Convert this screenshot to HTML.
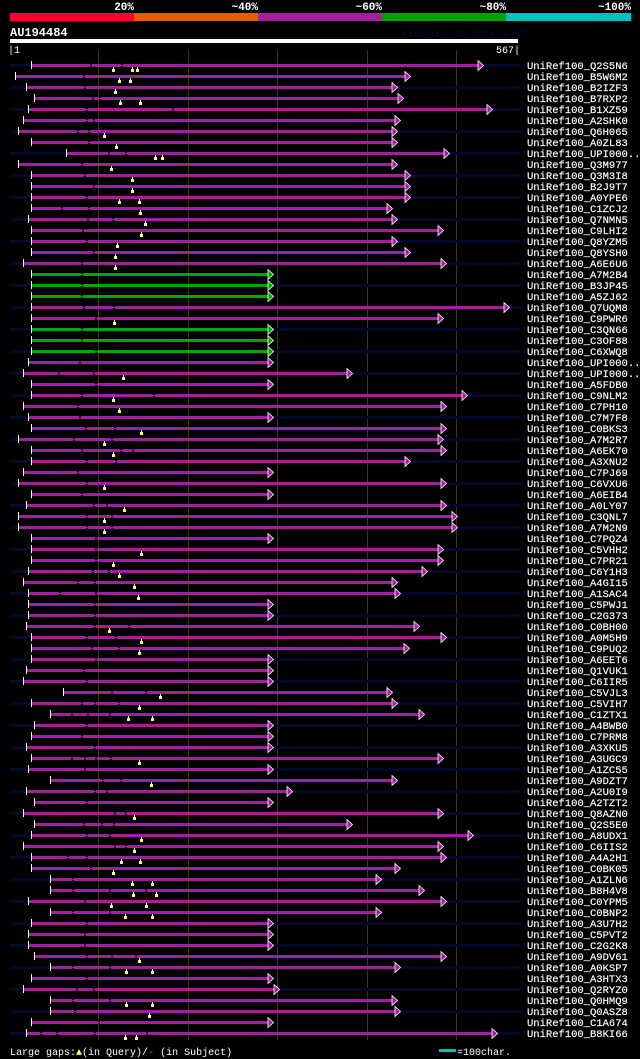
<!DOCTYPE html>
<html><head><meta charset="utf-8">
<style>
html,body{margin:0;padding:0;background:#000;}
body{width:640px;height:1059px;overflow:hidden;}
svg{display:block;}
text{font-family:"Liberation Mono",monospace;}
rect{shape-rendering:crispEdges;}
</style></head>
<body>
<svg id="chart" width="640" height="1059" viewBox="0 0 640 1059" xmlns="http://www.w3.org/2000/svg">
  <g>
    <rect x="10" y="13" width="124" height="8" fill="#ff0033"/>
    <rect x="134" y="13" width="124" height="8" fill="#e06000"/>
    <rect x="258" y="13" width="124" height="8" fill="#a020a0"/>
    <rect x="382" y="13" width="124" height="8" fill="#00a000"/>
    <rect x="506" y="13" width="125" height="8" fill="#00c0c0"/>
    <g fill="#fff" font-size="11" font-weight="bold" text-anchor="end">
      <text x="134" y="10">20%</text>
      <text x="258" y="10">~40%</text>
      <text x="382" y="10">~60%</text>
      <text x="506" y="10">~80%</text>
      <text x="631" y="10">~100%</text>
    </g>
  </g>
  <text x="10" y="36" fill="#fff" font-size="12" font-weight="bold">AU194484</text>
  <text x="402" y="36" fill="#0a0a3a" font-size="9">AlignView.pm Beta rel.7</text>
  <rect x="10" y="39" width="508" height="4" fill="#fff"/>
  <text x="8" y="53" fill="#fff" font-size="10">|1</text>
  <text x="520" y="53" fill="#fff" font-size="10" text-anchor="end">567|</text>
  <g id="grid"></g>
  <g id="rows"></g>
  <g>
    <text x="10" y="1055" fill="#fff" font-size="10">Large gaps:<tspan fill="#ffff80">▲</tspan>(in Query)/<tspan fill="#00c0c0">-</tspan> (in Subject)</text>
    <rect x="439" y="1049" width="17" height="3" fill="#00c0c0"/>
    <text x="457" y="1055" fill="#fff" font-size="10">=100char.</text>
  </g>
</svg>
<script>
const names = ["Q2S5N6","B5W6M2","B2IZF3","B7RXP2","B1XZ59","A2SHK0","Q6H065","A0ZL83","UPI000..","Q3M977",
"Q3M3I8","B2J9T7","A0YPE6","C1ZCJ2","Q7NMN5","C9LHI2","Q8YZM5","Q8YSH0","A6E6U6","A7M2B4",
"B3JP45","A5ZJ62","Q7UQM8","C9PWR6","C3QN66","C3OF88","C6XWQ8","UPI000..","UPI000..","A5FDB0",
"C9NLM2","C7PH10","C7M7F8","C0BKS3","A7M2R7","A6EK70","A3XNU2","C7PJ69","C6VXU6","A6EIB4",
"A0LY07","C3QNL7","A7M2N9","C7PQZ4","C5VHH2","C7PR21","C6Y1H3","A4GI15","A1SAC4","C5PWJ1",
"C2G373","C0BH00","A0M5H9","C9PUQ2","A6EET6","Q1VUK1","C6IIR5","C5VJL3","C5VIH7","C1ZTX1",
"A4BWB0","C7PRM8","A3XKU5","A3UGC9","A1ZC55","A9DZT7","A2U0I9","A2TZT2","Q8AZN0","Q2S5E0",
"A8UDX1","C6IIS2","A4A2H1","C0BK05","A1ZLN6","B8H4V8","C0YPM5","C0BNP2","A3U7H2","C5PVT2",
"C2G2K8","A9DV61","A0KSP7","A3HTX3","Q2RYZ0","Q0HMQ9","Q0ASZ8","C1A674","B8KI66"];
const starts = [24,7,19,28,21,16,10,24,63,10, 24,24,24,24,21,24,24,24,16,24,
24,24,24,24,24,24,24,21,16,24, 24,16,21,24,10,24,24,16,10,24,
19,10,10,24,24,24,21,16,21,21, 21,19,24,24,24,19,16,60,24,46,
28,24,19,24,21,46,19,28,16,28, 24,16,24,24,46,46,21,46,24,21,
21,28,46,24,16,46,46,24,19];
const ends = [522,441,427,433,532,430,427,427,484,427, 441,441,441,421,427,478,427,441,481,288,
288,288,551,478,288,288,288,288,376,288, 505,481,288,481,478,481,441,288,481,288,
481,493,493,288,478,478,460,427,430,288, 288,451,481,440,288,288,288,421,427,457,
288,288,288,478,288,427,310,288,478,376, 511,478,481,430,409,457,481,409,288,288,
288,481,430,288,295,427,430,288,538];
const queryGaps = [[116,137,143],[122,135],[118],[124,146],[],[],[106],[119],[163,170],[113],
[137],[137],[123,145],[146],[151],[147],[120],[118],[118],[],
[],[],[],[117],[],[],[],[],[127],[],
[116],[122],[],[147],[106],[116],[],[],[106],[],
[128],[106],[106],[],[147],[116],[123],[139],[144],[],
[],[111],[147],[145],[],[],[],[168],[145],[132,159],
[],[],[],[145],[],[158],[],[],[139],[],
[147],[139],[125,146],[116],[137,159],[138,164],[113,152],[129,159],[],[],
[],[145],[130,159],[],[],[130,159],[156],[],[129,141]];
const subjectGaps = [[90,125],[82],[84],[92,100],[86,182],[86,94],[76,88],[88],[110,129],[80],
[84],[93],[86],[58,88],[87,115],[81],[86],[93],[80],[80],
[80],[80],[82,116],[96],[80],[80],[96],[78],[54,94],[96],
[80,160],[76],[78],[85,117],[71,113],[80,124,137],[86,118],[76],[86],[80],
[94,108],[86,114],[86,114],[96],[96],[96],[92,110],[76,95],[56,96],
[95],[95],[95,133],[86,118],[91,121],[96],[82],[86],[114,151],[80,95,121],[69,87,111],
[86],[80],[95],[69,84,96,112],[84],[104,124],[95,108],[86],[117,129],[82,102,116],
[86,111],[117,129],[64,86],[90],[70],[70,111,151],[84],[70,111],[86],[84],
[84],[86,114,140],[70,111],[86],[75,93],[70,111],[72],[99],[34,52,95,153]];
const identityClass = names.map((n,i)=>[19,20,21,24,25,26].includes(i)?"high":"mid");

const NS="http://www.w3.org/2000/svg";
const xScale = v => 10 + (v-1)*(508/566);
const rowY = i => 65 + i*11;
const gridTicks = [100,200,300,400,500];
const gridX = t => Math.round(10 + t*0.894);

const grid=document.getElementById('grid');
gridTicks.forEach(t=>{
  const r=document.createElementNS(NS,'rect');
  r.setAttribute('x',gridX(t)-1);r.setAttribute('y',50);
  r.setAttribute('width',1);r.setAttribute('height',990);
  r.setAttribute('fill','#3a3a10');
  
  
  grid.appendChild(r);
});

const rows=document.getElementById('rows');
function el(tag,attrs){const e=document.createElementNS(NS,tag);for(const k in attrs)e.setAttribute(k,attrs[k]);return e;}
names.forEach((n,i)=>{
  const y=rowY(i);
  const g=el('g',{});
  
  
  if(i%2===0){
    const t=el('rect',{x:10,y:y-1,width:510,height:3,fill:'#04062c'});
    
    
    g.appendChild(t);
  }
  const s=Math.round(xScale(starts[i])), e=Math.round(xScale(ends[i]));
  const col=identityClass[i]==="high"?"#00a800":"#a020a0";
  const b=el('rect',{x:s,y:y-1,width:e-s,height:3,fill:col});
  
  
  g.appendChild(b);
  subjectGaps[i].forEach(q=>{
    const qx=Math.round(xScale(q));
    if(qx<=s+1||qx>=e-2) return;
    const gp=el('rect',{x:qx,y:y-1,width:2,height:1,fill:'#000'});
    
    
    g.appendChild(gp);
    const gp2=el('rect',{x:qx,y:y+1,width:2,height:1,fill:'#000'});
    
    
    g.appendChild(gp2);
  });
  const tk=el('rect',{x:s,y:y-4,width:1,height:8,fill:'#fff'});
  
  
  g.appendChild(tk);
  const a=el('polygon',{points:`${e},${y-4.5} ${e+5.5},${y+0.5} ${e},${y+5.5}`,fill:col,stroke:'#fff','stroke-width':0.8});
  
  
  g.appendChild(a);
  queryGaps[i].forEach(q=>{
    const qx=Math.round(xScale(q));
    const m=el('path',{d:`M${qx},${y+2}h1v2h1v3h-3v-3h1z`,fill:'#ffff80'});
    
    
    g.appendChild(m);
  });
  const tx=el('text',{x:527,y:y+4,fill:'#fff','font-size':10.5,stroke:'#fff','stroke-width':0.15});
  tx.textContent='UniRef100_'+n;
  
  
  g.appendChild(tx);
  rows.appendChild(g);
});
</script>
</body></html>
